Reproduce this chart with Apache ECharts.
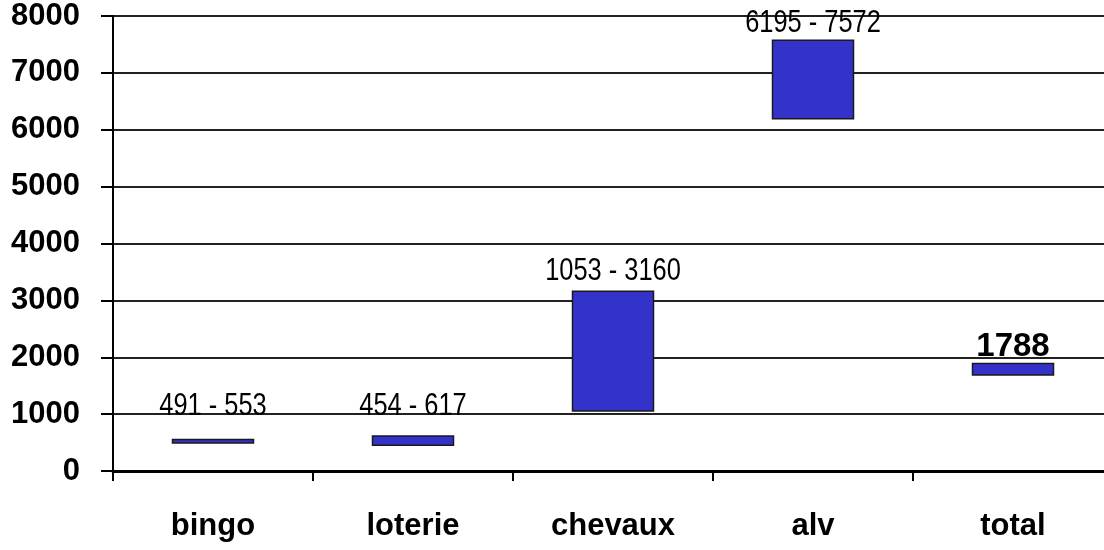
<!DOCTYPE html>
<html>
<head>
<meta charset="utf-8">
<script src="https://cdn.jsdelivr.net/npm/echarts@6/dist/echarts.min.js"></script>
<style>
  html, body { margin: 0; padding: 0; background: #fff; }
  #chart { width: 1104px; height: 550px; }
</style>
</head>
<body>
<div id="chart"></div>
<script>
  // data
  var categories = ['bingo', 'loterie', 'chevaux', 'alv', 'total']
  var lowValues = [491, 454, 1053, 6195, 1690]
  var highValues = [553, 617, 3160, 7572, 1890]
  var rangeLabels = ['491 - 553', '454 - 617', '1053 - 3160', '6195 - 7572', '1788']
  var yMin = 0
  var yMax = 8000
  var yStep = 1000

  // gap between bar top and its label (style only)
  var labelGap = [17.5, 13.5, 4.5, 1.5, 0]

  var sans = "'Liberation Sans', Arial, sans-serif"

  var chart = echarts.init(document.getElementById('chart'))

  var rangeData = categories.map(function (c, i) {
    return [i, lowValues[i], highValues[i]]
  })

  chart.setOption({
    animation: false,
    backgroundColor: '#fff',
    grid: {
      left: 113,
      top: 16,
      width: 1000,
      bottom: 79,
      outerBoundsMode: 'none'
    },
    xAxis: {
      type: 'category',
      data: categories,
      axisLine: { lineStyle: { color: '#000', width: 3 } },
      axisTick: { show: true, length: 10, lineStyle: { color: '#000', width: 2 } },
      axisLabel: {
        margin: 40,
        color: '#000',
        fontFamily: sans,
        fontWeight: 'bold',
        fontSize: 31
      },
      splitLine: { show: false }
    },
    yAxis: {
      type: 'value',
      min: yMin,
      max: yMax,
      interval: yStep,
      axisLine: { show: true, lineStyle: { color: '#000', width: 2 } },
      axisTick: { show: true, length: 12, lineStyle: { color: '#000', width: 2 } },
      axisLabel: {
        margin: 33,
        color: '#000',
        fontFamily: sans,
        fontWeight: 'bold',
        fontSize: 31,
        formatter: function (v) { return String(v) }
      },
      splitLine: { show: true, lineStyle: { color: '#222', width: 2 } }
    },
    series: [
      {
        name: 'range',
        type: 'custom',
        data: rangeData,
        encode: { x: 0, y: [1, 2] },
        renderItem: function (params, api) {
          var i = params.dataIndex
          var lo = api.coord([api.value(0), api.value(1)])
          var hi = api.coord([api.value(0), api.value(2)])
          var bw = 81
          var isTotal = categories[i] === 'total'
          return {
            type: 'group',
            children: [
              {
                type: 'rect',
                shape: { x: lo[0] - bw / 2, y: hi[1], width: bw, height: lo[1] - hi[1] },
                style: { fill: '#3333CC', stroke: '#1a1a1a', lineWidth: 1.5 }
              },
              {
                type: 'text',
                x: hi[0],
                y: hi[1] - labelGap[i],
                scaleX: isTotal ? 1 : 0.82,
                style: {
                  text: rangeLabels[i],
                  fill: '#000',
                  fontFamily: sans,
                  fontWeight: isTotal ? 'bold' : 'normal',
                  fontSize: isTotal ? 33 : 31,
                  align: 'center',
                  verticalAlign: 'bottom'
                }
              }
            ]
          }
        }
      }
    ]
  })
</script>
</body>
</html>
